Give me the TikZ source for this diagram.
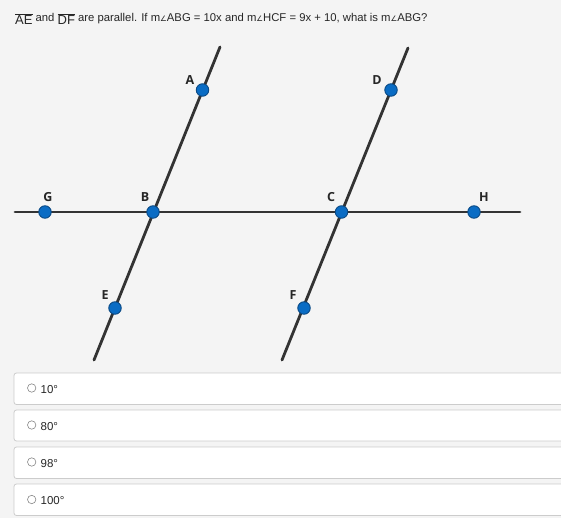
\documentclass[tikz,border=0pt]{standalone}
\usepackage{fontspec}
\setmainfont{Liberation Sans}
\newfontfamily\dejavu{DejaVu Sans}
\newfontfamily\labfont{Open Sans}
\definecolor{bgc}{HTML}{F4F4F4}
\definecolor{lnc}{HTML}{333333}
\definecolor{dotc}{HTML}{0A6CC4}
\definecolor{dotedge}{HTML}{0B4A85}
\definecolor{boxedge}{HTML}{CCCCCC}
\definecolor{radioc}{HTML}{888888}
\newcommand{\angsym}{{\dejavu\fontsize{7.5}{7.5}\selectfont ∠}}
\begin{document}
\begin{tikzpicture}[x=1pt,y=-1pt,
  ln/.style={draw=lnc,line width=2.8pt,line cap=round},
  gpt/.style={circle,fill=dotc,draw=dotedge,line width=0.9pt,minimum size=12.5pt,inner sep=0pt},
  lab/.style={font=\labfont\bfseries\fontsize{12.5}{13}\selectfont,text=black!85,inner sep=0pt},
  answerbox/.style={draw=boxedge,fill=white,line width=0.8pt,rounded corners=2.5pt},
  radio/.style={draw=radioc,fill=white,line width=0.6pt},
  anstext/.style={anchor=west,font=\fontsize{11.5}{13}\selectfont,text=black!85,inner sep=0pt}]
\fill[bgc] (0,0) rectangle (561,518);
\useasboundingbox (0,0) rectangle (561,518);
% title
\node[anchor=west,inner sep=0pt,font=\fontsize{11.3}{13}\selectfont,text=black!85] (title) at (15,19)
  {\raisebox{-3.5pt}{\fontsize{13}{14}\selectfont$\overline{\hbox{AE}}$} and \raisebox{-3.5pt}{\fontsize{13}{14}\selectfont$\overline{\hbox{DF}}$} are parallel. If m\angsym ABG = 10x and m\angsym HCF = 9x + 10, what is m\angsym ABG?};
% lines
\coordinate (Atop) at (220,47);
\coordinate (Ebot) at (94,360);
\coordinate (Dtop) at (408,48);
\coordinate (Fbot) at (282,360);
\coordinate (Gend) at (15,212);
\coordinate (Hend) at (520,212);
\draw[ln] (Gend) -- (Hend);
\draw[ln] (Atop) -- (Ebot);
\draw[ln] (Dtop) -- (Fbot);
% points
\node[gpt] (A) at (202.5,90) {};
\node[gpt] (D) at (391,90) {};
\node[gpt] (G) at (45,212) {};
\node[gpt] (B) at (153,212) {};
\node[gpt] (C) at (341.5,212) {};
\node[gpt] (H) at (474,212) {};
\node[gpt] (E) at (115,308) {};
\node[gpt] (F) at (304,308) {};
% labels
\node[lab] (lA) at (190,80) {A};
\node[lab] (lD) at (377,80) {D};
\node[lab] (lG) at (48,197) {G};
\node[lab] (lB) at (145,197) {B};
\node[lab] (lC) at (331,197) {C};
\node[lab] (lH) at (484,197) {H};
\node[lab] (lE) at (105,295) {E};
\node[lab] (lF) at (293,295) {F};
% answers
\draw[answerbox] (14,373) rectangle (568,404.5);
\draw[answerbox] (14,410) rectangle (568,441);
\draw[answerbox] (14,447) rectangle (568,478.5);
\draw[answerbox] (14,484) rectangle (568,515.5);
\draw[radio] (31.7,388) circle (4.2pt);
\draw[radio] (31.7,425) circle (4.2pt);
\draw[radio] (31.7,462) circle (4.2pt);
\draw[radio] (31.7,499.5) circle (4.2pt);
\node[anstext] (a1) at (40.5,389.5) {10°};
\node[anstext] (a2) at (40.5,426.5) {80°};
\node[anstext] (a3) at (40.5,463.5) {98°};
\node[anstext] (a4) at (40.5,501) {100°};
\end{tikzpicture}
\end{document}
